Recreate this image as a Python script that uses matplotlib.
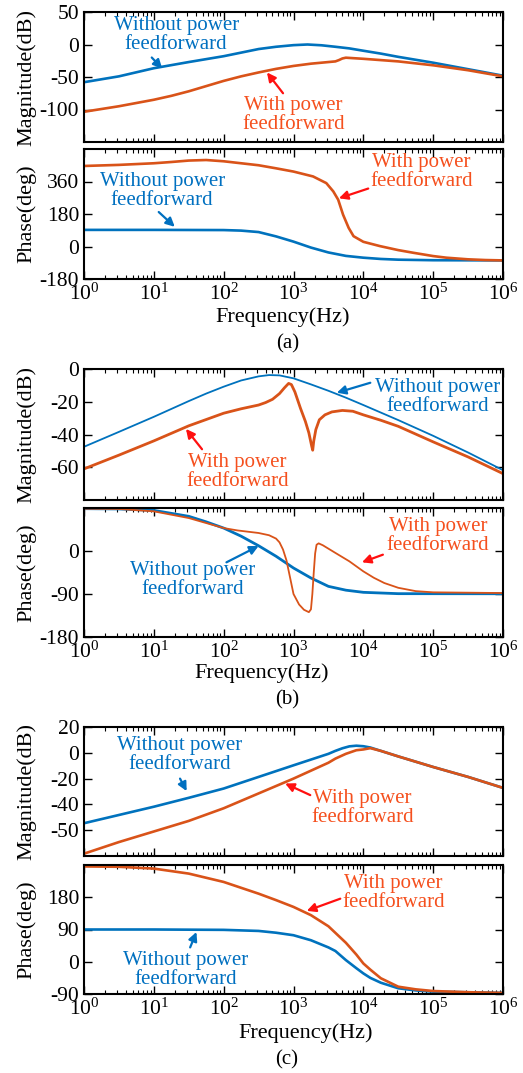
import matplotlib
matplotlib.use("Agg")
import matplotlib.pyplot as plt
import numpy as np
from matplotlib.ticker import LogLocator, LogFormatterMathtext, NullFormatter

plt.rcParams["font.family"] = ["Liberation Serif", "DejaVu Serif"]
plt.rcParams["mathtext.fontset"] = "custom"
plt.rcParams["mathtext.rm"] = "Liberation Serif"
plt.rcParams["mathtext.it"] = "Liberation Serif:italic"
plt.rcParams["axes.unicode_minus"] = False

# ---- data (x in log10(Hz)) ----
# (a) magnitude
a_mag_wo_x = [0, 0.5, 1, 1.5, 2, 2.25, 2.5, 2.75, 3, 3.2, 3.4, 3.6, 3.8, 4, 4.25, 4.5, 5, 5.5, 6]
a_mag_wo_y = [-58, -49, -36.5, -27, -18, -12.5, -7, -3.5, -1, 0, -1.2, -3.5, -6, -9.6, -14, -19, -28, -38, -48]
a_mag_w_x = [0, 0.5, 1, 1.25, 1.5, 1.75, 2, 2.25, 2.5, 2.75, 3, 3.25, 3.5, 3.6, 3.65, 3.7, 3.75,
             3.85, 4, 4.5, 5, 5.5, 6]
a_mag_w_y = [-103.5, -95, -85, -79, -72, -64, -56, -49, -43, -37.5, -33, -29.5, -27, -26, -24, -21.5, -20.3,
             -21, -22, -26, -32, -39.6, -49]
# (a) phase
a_ph_wo_x = [0, 1, 2, 2.25, 2.5, 2.75, 3, 3.25, 3.5, 3.75, 4, 4.25, 4.5, 5, 6]
a_ph_wo_y = [92, 92, 91, 88, 80, 56, 27, -6, -33, -52, -62, -69, -73, -76, -77]
a_ph_w_x = [0, 0.5, 1, 1.25, 1.5, 1.75, 2, 2.25, 2.5, 2.75, 3, 3.28, 3.47, 3.57, 3.64, 3.71, 3.79,
            3.86, 4, 4.24, 4.5, 4.72, 5, 5.19, 5.5, 5.75, 6]
a_ph_w_y = [446, 452, 461, 468, 476, 479, 472, 461, 450, 433, 415, 388, 351, 305, 259, 176, 103,
            57, 26, 2, -20, -35, -53, -62, -71, -75, -77]

# (b) magnitude
b_mag_wo_x = [0, 0.5, 1, 1.5, 1.75, 2, 2.25, 2.5, 2.65, 2.8, 3, 3.25, 3.5, 3.75, 4, 4.5, 5, 5.5, 6]
b_mag_wo_y = [-47.5, -38.4, -29.2, -19.6, -15, -10.8, -7, -4.5, -3.7, -3.9, -5.7, -9.4, -13.3, -17.5,
              -22, -31.2, -40.8, -51, -61.8]
b_mag_w_x = [0, 0.5, 1, 1.5, 2, 2.25, 2.5, 2.6, 2.7, 2.8, 2.87, 2.93, 2.97, 3.02, 3.1, 3.17, 3.22,
             3.26, 3.275, 3.29, 3.32, 3.37, 3.45, 3.55, 3.7, 3.85, 4, 4.25, 4.5, 5, 5.5, 6]
b_mag_w_y = [-61, -52.6, -43.9, -34.7, -27, -24.3, -22, -20.5, -18.5, -15, -11.5, -8.8, -9.5, -14, -24,
             -32, -39, -47, -49.6, -44, -37, -31, -28, -26.2, -25.3, -25.8, -28, -31.3, -35, -44.5,
             -53.7, -63.9]
# (b) phase
b_ph_wo_x = [0, 0.5, 1, 1.5, 1.75, 2, 2.25, 2.5, 2.75, 3, 3.25, 3.5, 3.75, 4, 4.5, 6]
b_ph_wo_y = [88.6, 88, 85, 72.6, 61, 48, 31, 11, -11, -35.6, -56.5, -74, -82, -86.5, -89.3, -89.5]
b_ph_w_x = [0, 0.5, 1, 1.5, 2, 2.2, 2.5, 2.65, 2.75, 2.8, 2.85, 2.9, 2.95, 3.0, 3.08, 3.15, 3.22,
            3.25, 3.27, 3.29, 3.31, 3.33, 3.36, 3.42, 3.6, 3.8, 4, 4.15, 4.3, 4.5, 4.75, 5, 6]
b_ph_w_y = [88.6, 88, 83, 69, 48, 43, 37.7, 33, 26, 18, 3, -20, -55, -90, -112, -123, -128,
            -122, -90, -45, -5, 13, 16, 12, -4, -21.6, -42.6, -56, -67, -77, -84, -86.5, -88]

# (c) magnitude
c_mag_wo_x = [0, 0.5, 1, 1.5, 2, 2.5, 3, 3.5, 3.6, 3.7, 3.8, 3.9, 4, 4.1, 4.25, 4.5, 5, 5.5, 6]
c_mag_wo_y = [-54.6, -48.2, -41.8, -34.9, -27.7, -18.7, -9.7, -0.8, 1.5, 3.5, 5, 5.5, 5.1, 4.1, 1.5,
              -2.8, -11, -18.7, -27.2]
c_mag_w_x = [0, 0.5, 1, 1.5, 2, 2.5, 3, 3.5, 3.6, 3.75, 3.9, 4, 4.1, 4.25, 4.5, 5, 5.5, 6]
c_mag_w_y = [-78.2, -69.2, -61, -52.8, -43, -31.5, -20, -7.7, -4.5, -0.8, 2, 2.6, 3.6, 1.5, -2.8, -11,
             -18.7, -27.2]
# (c) phase
c_ph_wo_x = [0, 1, 2, 2.5, 2.75, 3, 3.25, 3.5, 3.6, 3.75, 3.9, 4, 4.1, 4.25, 4.5, 4.75, 5, 6]
c_ph_wo_y = [90, 90, 89, 86, 81, 74, 60, 40, 30, 4.6, -18, -32.5, -45, -58.5, -74, -80, -83.5, -87]
c_ph_w_x = [0, 0.5, 1, 1.5, 2, 2.5, 2.75, 3, 3.25, 3.5, 3.75, 3.9, 4, 4.1, 4.25, 4.5, 4.75, 5, 5.5, 6]
c_ph_w_y = [266, 265, 260, 246, 222.7, 190, 172, 153, 130, 99, 53, 20, -4.7, -22, -46, -69.6, -77,
            -81.7, -85, -87]

LINE_BLUE = "#0072BD"
LINE_ORANGE = "#D95319"
TXT_BLUE = "#0070C0"
TXT_ORANGE = "#F5501E"
ARR_RED = "#FF1010"

W, H = 523, 1073
fig = plt.figure(figsize=(W / 100, H / 100), dpi=100)


def make_ax(top, bottom):
    left, right = 84, 503
    ax = fig.add_axes([left / W, 1 - bottom / H, (right - left) / W, (bottom - top) / H])
    ax.set_xscale("log")
    ax.set_xlim(1, 1e6)
    ax.xaxis.set_major_locator(LogLocator(base=10, numticks=10))
    ax.xaxis.set_minor_locator(LogLocator(base=10, subs=np.arange(2, 10), numticks=20))
    ax.xaxis.set_minor_formatter(NullFormatter())
    ax.tick_params(which="both", direction="in", top=True, right=True, labelsize=15.5)
    ax.tick_params(which="major", length=6, width=1)
    ax.tick_params(which="minor", length=3, width=0.8)
    for s in ax.spines.values():
        s.set_linewidth(1.5)
    return ax


def note(ax, txt, xy_txt, head, tail, tcol, acol):
    ax.text(10 ** xy_txt[0], xy_txt[1], txt, color=tcol, fontsize=15, ha="center",
            va="center", linespacing=1.0)
    ax.annotate("", xy=(10 ** head[0], head[1]), xytext=(10 ** tail[0], tail[1]),
                arrowprops=dict(arrowstyle="-|>", color=acol, lw=1.6, mutation_scale=13,
                                shrinkA=0, shrinkB=0))


def px(v):
    return [10 ** t for t in v]


TXT_WO = "Without power\nfeedforward"
TXT_W = "With power\nfeedforward"
LAB_X = -0.113

# ---------- (a) ----------
ax = make_ax(12, 142)
ax.plot(px(a_mag_wo_x), a_mag_wo_y, color=LINE_BLUE, lw=1.9)
ax.plot(px(a_mag_w_x), a_mag_w_y, color=LINE_ORANGE, lw=1.9)
ax.set_ylim(-150, 50)
ax.set_yticks([50, 0, -50, -100])
ax.xaxis.set_major_formatter(NullFormatter())
ax.set_ylabel("Magnitude(dB)", fontsize=16)
ax.yaxis.set_label_coords(LAB_X, 0.5)
note(ax, TXT_WO, (1.32, 15), (1.12, -37), (0.97, -20), TXT_BLUE, TXT_BLUE)
note(ax, TXT_W, (3.0, -109), (2.62, -43), (2.85, -75), TXT_ORANGE, ARR_RED)

ax = make_ax(149, 279)
ax.plot(px(a_ph_wo_x), a_ph_wo_y, color=LINE_BLUE, lw=1.9)
ax.plot(px(a_ph_w_x), a_ph_w_y, color=LINE_ORANGE, lw=1.9)
ax.set_ylim(-180, 540)
ax.set_yticks([-180, 0, 180, 360])
ax.xaxis.set_major_formatter(LogFormatterMathtext())
ax.set_ylabel("Phase(deg)", fontsize=16)
ax.yaxis.set_label_coords(LAB_X, 0.5)
note(ax, TXT_WO, (1.12, 308), (1.3, 109), (1.07, 191), TXT_BLUE, TXT_BLUE)
note(ax, TXT_W, (4.83, 410), (3.65, 267), (4.07, 321), TXT_ORANGE, ARR_RED)
fig.text(283 / W, 1 - 317 / H, "Frequency(Hz)", fontsize=16, ha="center", va="center")
fig.text(288 / W, 1 - 344 / H, "(a)", fontsize=15, ha="center", va="center")

# ---------- (b) ----------
ax = make_ax(369, 500)
ax.plot(px(b_mag_wo_x), b_mag_wo_y, color=LINE_BLUE, lw=1.3)
ax.plot(px(b_mag_w_x), b_mag_w_y, color=LINE_ORANGE, lw=2.0)
ax.set_ylim(-80, 0)
ax.set_yticks([0, -20, -40, -60])
ax.xaxis.set_major_formatter(NullFormatter())
ax.set_ylabel("Magnitude(dB)", fontsize=16)
ax.yaxis.set_label_coords(LAB_X, 0.5)
note(ax, TXT_WO, (5.06, -17.2), (3.62, -14.5), (4.1, -8.4), TXT_BLUE, TXT_BLUE)
note(ax, TXT_W, (2.2, -62.6), (1.46, -36.6), (1.69, -49), TXT_ORANGE, ARR_RED)

ax = make_ax(508, 637)
ax.plot(px(b_ph_wo_x), b_ph_wo_y, color=LINE_BLUE, lw=2.0)
ax.plot(px(b_ph_w_x), b_ph_w_y, color=LINE_ORANGE, lw=1.3)
ax.set_ylim(-180, 90)
ax.set_yticks([-180, -90, 0])
ax.xaxis.set_major_formatter(LogFormatterMathtext())
ax.set_ylabel("Phase(deg)", fontsize=16)
ax.yaxis.set_label_coords(LAB_X, 0.5)
note(ax, TXT_WO, (1.56, -60.7), (2.5, 10.5), (2.04, -23.7), TXT_BLUE, TXT_BLUE)
note(ax, TXT_W, (5.07, 32), (3.98, -23.7), (4.28, -7.7), TXT_ORANGE, ARR_RED)
fig.text(262 / W, 1 - 673 / H, "Frequency(Hz)", fontsize=16, ha="center", va="center")
fig.text(287 / W, 1 - 700 / H, "(b)", fontsize=15, ha="center", va="center")

# ---------- (c) ----------
ax = make_ax(727, 856)
ax.plot(px(c_mag_wo_x), c_mag_wo_y, color=LINE_BLUE, lw=1.9)
ax.plot(px(c_mag_w_x), c_mag_w_y, color=LINE_ORANGE, lw=1.9)
ax.set_ylim(-80, 20)
ax.set_yticks([20, 0, -20, -40, -60])
ax.set_yticklabels(["20", "0", "-20", "-40", "-50"])
ax.xaxis.set_major_formatter(NullFormatter())
ax.set_ylabel("Magnitude(dB)", fontsize=16)
ax.yaxis.set_label_coords(LAB_X, 0.5)
note(ax, TXT_WO, (1.375, -2), (1.47, -29.7), (1.375, -20), TXT_BLUE, TXT_BLUE)
note(ax, TXT_W, (3.99, -42.5), (2.88, -23.8), (3.24, -32.8), TXT_ORANGE, ARR_RED)

ax = make_ax(865, 994)
ax.plot(px(c_ph_wo_x), c_ph_wo_y, color=LINE_BLUE, lw=1.9)
ax.plot(px(c_ph_w_x), c_ph_w_y, color=LINE_ORANGE, lw=1.9)
ax.set_ylim(-90, 270)
ax.set_yticks([-90, 0, 90, 180])
ax.xaxis.set_major_formatter(LogFormatterMathtext())
ax.set_ylabel("Phase(deg)", fontsize=16)
ax.yaxis.set_label_coords(LAB_X, 0.5)
note(ax, TXT_WO, (1.46, -24), (1.61, 83), (1.52, 40), TXT_BLUE, TXT_BLUE)
note(ax, TXT_W, (4.43, 191), (3.19, 142), (3.67, 176), TXT_ORANGE, ARR_RED)
fig.text(306 / W, 1 - 1033 / H, "Frequency(Hz)", fontsize=16, ha="center", va="center")
fig.text(287 / W, 1 - 1060 / H, "(c)", fontsize=15, ha="center", va="center")

fig.savefig("out.png", dpi=100)
